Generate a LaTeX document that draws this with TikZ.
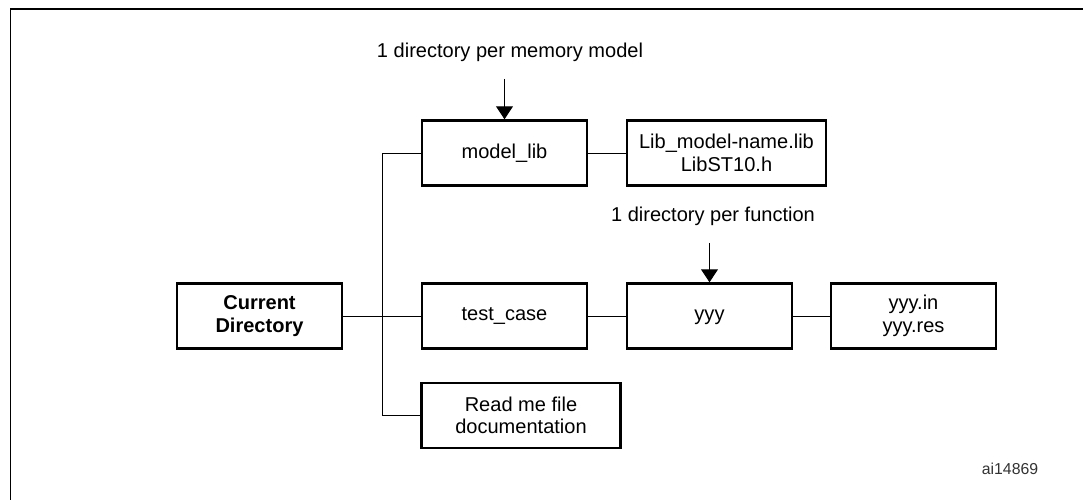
\documentclass[tikz,border=0pt]{standalone}
\usepackage{fontspec}
\setmainfont{Liberation Sans}
\usetikzlibrary{arrows.meta}
\tikzstyle{dirbox}=[rectangle,draw=black!100,fill=white,line width=1.4pt,inner sep=0pt,minimum width=3.3cm,minimum height=1.3cm,align=center,font=\fontsize{11.4}{12.8}\selectfont]
\tikzstyle{widebox}=[dirbox,minimum width=3.98cm]
\tikzstyle{note}=[inner sep=0pt,font=\fontsize{11.4}{12.8}\selectfont]
\tikzstyle{branch}=[draw,line width=0.55pt]
\tikzstyle{pointer}=[draw,line width=0.55pt,-{Triangle[length=0.26cm,width=0.34cm]}]

\begin{document}
\begin{tikzpicture}[x=0.02cm,y=-0.02cm]
	\useasboundingbox (0,0) rectangle (1083,500);
	% frame
	\draw[line width=1.1pt] (10.5,500) -- (10.5,9) -- (1083,9);
	% directories
	\node at (259.5,316) [dirbox] (cur) {\bfseries Current\\\bfseries Directory};
	\node at (504.5,153) [dirbox] (modellib) {model\_lib};
	\node at (726.5,153) [widebox] (libfiles) {Lib\_model-name.lib\\LibST10.h};
	\node at (504.5,316) [dirbox] (testcase) {test\_case};
	\node at (709.5,316) [dirbox] (yyy) {\strut yyy};
	\node at (913.5,316) [dirbox] (yyyfiles) {yyy.in\\yyy.res};
	\node at (521,415.5) [widebox] (readme) {Read me file\\documentation};
	% notes
	\node at (510,52) [note] (permodel) {1 directory per memory model};
	\node at (713,216) [note] (perfunc) {1 directory per function};
	\node at (1010,469) [note,font=\fontsize{9}{10}\selectfont,text=black!80] (ref) {ai14869};
	\coordinate (trunk) at (382,316);
	\coordinate (modeltip) at (504.5,79);
	\coordinate (functip) at (709.5,243);
	% tree
	\path[branch] (cur) -- (testcase);
	\path[branch] (modellib.west) -- (modellib.west -| trunk) -- (readme.west -| trunk) -- (readme.west);
	\path[branch] (modellib) -- (libfiles);
	\path[branch] (testcase) -- (yyy);
	\path[branch] (yyy) -- (yyyfiles);
	\path[pointer] (modeltip) -- (modellib);
	\path[pointer] (functip) -- (yyy);
\end{tikzpicture}
\end{document}
